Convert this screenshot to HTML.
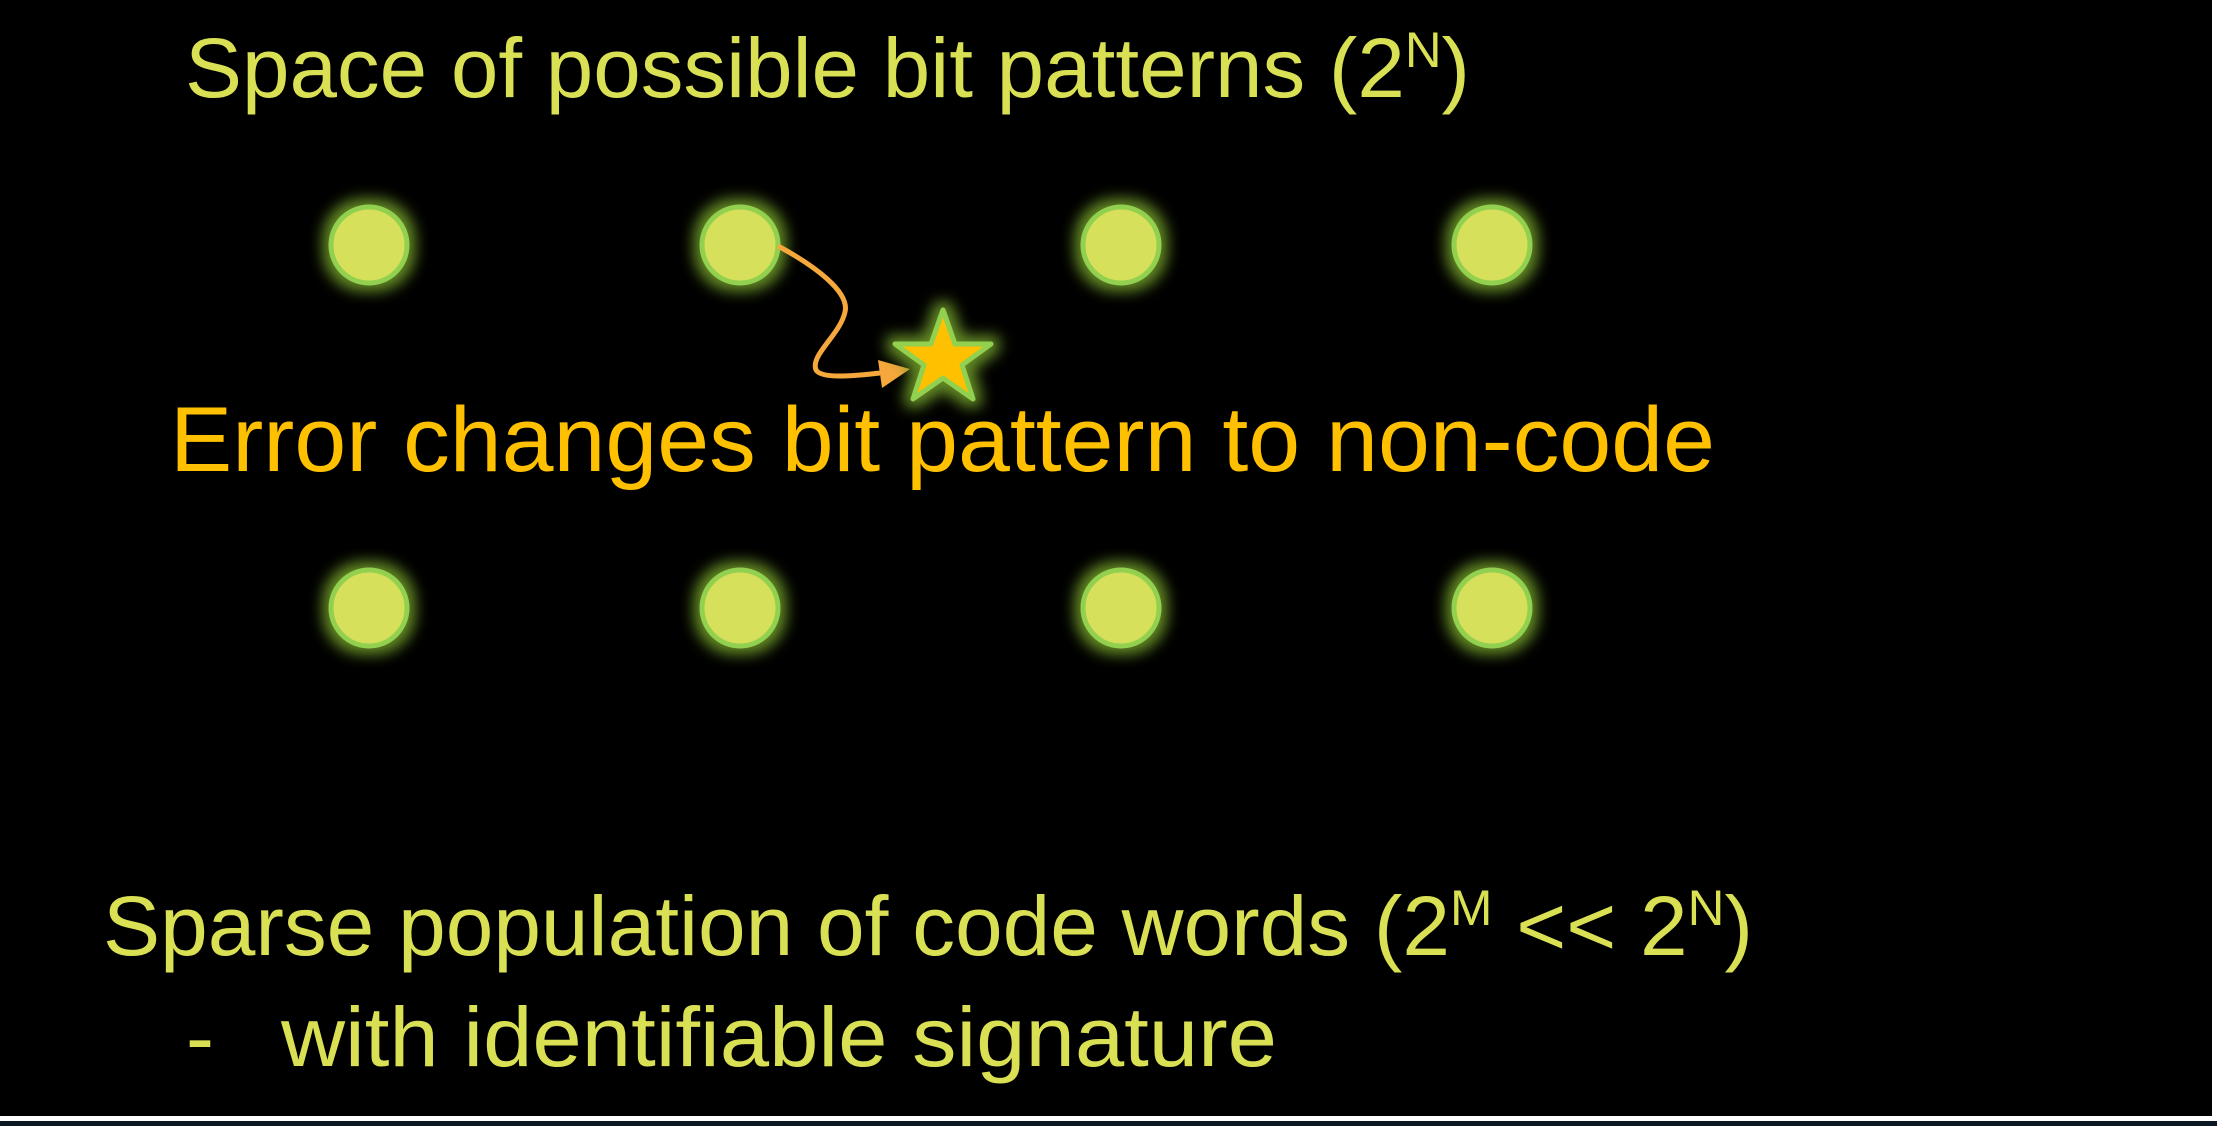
<!DOCTYPE html>
<html><head><meta charset="utf-8"><style>
html,body{margin:0;padding:0;background:#000;}
svg{display:block;}
</style></head><body>
<svg width="2217" height="1126" viewBox="0 0 2217 1126" xmlns="http://www.w3.org/2000/svg">
<defs>
<filter id="glow" x="-80%" y="-80%" width="260%" height="260%">
<feMorphology in="SourceAlpha" operator="dilate" radius="6" result="d"/>
<feGaussianBlur in="d" stdDeviation="7" result="b"/>
<feFlood flood-color="#6f9a28" flood-opacity="0.9"/>
<feComposite in2="b" operator="in" result="g"/>
<feMerge><feMergeNode in="g"/><feMergeNode in="SourceGraphic"/></feMerge>
</filter>
</defs>
<rect width="2217" height="1126" fill="#000"/>
<rect x="2212" y="0" width="5" height="1122" fill="#fff"/>
<rect x="0" y="1116" width="2217" height="5" fill="#fff"/>
<rect x="0" y="1121" width="2217" height="5" fill="#0b1722"/>

<g font-family="'Liberation Sans', sans-serif" fill="#D9E053">
<text x="185" y="97" font-size="84" textLength="1285" lengthAdjust="spacingAndGlyphs">Space of possible bit patterns (2<tspan font-size="50" dy="-30">N</tspan><tspan dy="30">)</tspan></text>
<text x="103" y="955" font-size="84" textLength="1650" lengthAdjust="spacingAndGlyphs">Sparse population of code words (2<tspan font-size="50" dy="-30">M</tspan><tspan dy="30"> &lt;&lt; 2</tspan><tspan font-size="50" dy="-30">N</tspan><tspan dy="30">)</tspan></text>
<text x="186" y="1066" font-size="84">-</text>
<text x="281" y="1066" font-size="84" textLength="996" lengthAdjust="spacingAndGlyphs">with identifiable signature</text>
</g>
<text x="170" y="471" font-family="'Liberation Sans', sans-serif" font-size="92" fill="#FFC000" textLength="1545" lengthAdjust="spacingAndGlyphs">Error changes bit pattern to non-code</text>

<g filter="url(#glow)" fill="#D6E05A" stroke="#92D050" stroke-width="5">
<circle cx="369" cy="245" r="38"/>
<circle cx="740" cy="245" r="38"/>
<circle cx="1121" cy="245" r="38"/>
<circle cx="1492" cy="245" r="38"/>
<circle cx="369" cy="608" r="38"/>
<circle cx="740" cy="608" r="38"/>
<circle cx="1121" cy="608" r="38"/>
<circle cx="1492" cy="608" r="38"/>
</g>

<path d="M778 246 C815 266 850 292 845 312 C840 335 810 355 816 370 C822 380 860 375 880 373" fill="none" stroke="#F6A83C" stroke-width="5"/>
<polygon points="910,369 878,360 882,388" fill="#F6A83C"/>

<g filter="url(#glow)">
<polygon points="943,310 955,344 991,344 962,365 973,399 943,378 913,399 924,365 895,344 931,344" fill="#FFC000" stroke="#92D050" stroke-width="5" stroke-linejoin="round"/>
</g>
</svg>
</body></html>
